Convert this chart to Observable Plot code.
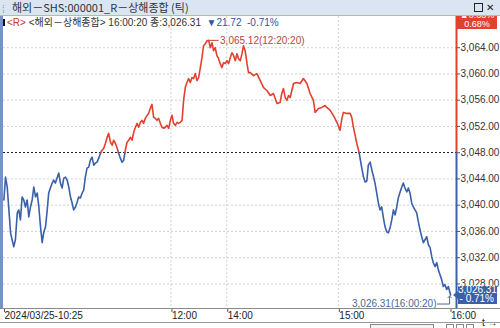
<!DOCTYPE html>
<html>
<head>
<meta charset="utf-8">
<script src="https://cdn.jsdelivr.net/npm/d3@7"></script>
<script src="https://cdn.jsdelivr.net/npm/@observablehq/plot@0.6"></script>
<style>
  body { margin: 0; background: #fff; }
  #wrap { position: relative; width: 500px; height: 328px; overflow: hidden; background: #fff;
          font-family: 'Liberation Sans Narrow', 'Liberation Sans', 'Noto Sans CJK KR', sans-serif; }
  #title { position: absolute; left: 0; top: 0; width: 500px; height: 15px; background: #dae5f1;
           border-bottom: 1px solid #a9c2a6; font-family: 'Liberation Sans Narrow', 'Noto Sans CJK KR', sans-serif;
           font-size: 11px; color: #2c3440; }
  #chart { position: absolute; left: 0; top: 16px; }
  .abs { position: absolute; }
</style>
</head>
<body>
<div id="wrap">
  <div id="title">
    <span class="abs" style="left:2px;top:1px;color:#8a9aae;font-size:10px;">⁞</span>
    <span class="abs" style="left:12px;top:0px;line-height:15px;">해외－SHS:000001_R－상해종합 (틱)</span>
    <span class="abs" style="left:474px;top:3px;width:7px;height:7px;border:1.5px solid #222;"></span>
    <span class="abs" style="left:486px;top:0px;line-height:15px;font-family:'DejaVu Sans';font-size:10px;font-weight:bold;color:#222;">✕</span>
  </div>
  <div id="chart"></div>
  <div class="abs" style="left:0;top:16px;width:3px;height:293px;background:#7393c9;"></div>
  <div class="abs" style="left:0;top:308px;width:500px;height:0;border-top:1.5px solid #8a8a8a;"></div>
  <div class="abs" style="left:0;top:322px;width:500px;height:0;border-top:1.5px solid #9a9a9a;"></div>
  <div class="abs" style="left:370px;top:324px;width:62px;height:6px;border:1px solid #8a8a8a;background:#f4f4f4;"></div>
  <div class="abs" style="left:446px;top:324px;width:6px;height:6px;border:1px solid #8a8a8a;"></div>
  <div class="abs" style="left:456px;top:324px;width:6px;height:6px;border:1px solid #8a8a8a;"></div>
  <div class="abs" style="left:466px;top:324px;width:6px;height:6px;border:1px solid #8a8a8a;"></div>
  <div id="info" class="abs" style="left:3px;top:17px;font-size:10px;line-height:11px;white-space:nowrap;color:#333;"></div>
</div>
<script>
// ---- data ----
const prevClose = 3048.03;
const seriesName = "해외－상해종합";
const times = [0.2,1.1,2.0,2.9,3.8,5.5,6.4,7.4,8.2,9.1,10.0,10.9,11.8,12.7,13.6,14.5,15.4,16.3,17.2,18.1,19.0,19.9,20.8,21.6,22.6,23.5,24.3,25.2,26.2,27.0,27.9,28.8,29.7,30.6,31.5,32.4,33.3,34.2,35.1,36.0,36.9,37.7,38.7,39.6,40.4,41.3,42.3,43.1,44.0,44.9,45.8,46.7,47.6,48.5,49.4,50.3,51.2,52.1,53.0,53.9,54.8,55.7,56.5,57.5,58.4,59.2,60.1,61.1,61.9,62.8,63.7,64.6,65.5,66.4,67.3,68.2,69.1,70.0,70.9,71.8,72.6,73.6,74.5,75.3,76.2,77.2,78.0,78.9,79.8,80.7,81.6,82.5,83.4,84.3,85.2,86.1,87.0,87.9,88.8,89.7,90.6,91.4,92.4,93.3,94.1,95.0,96.0,
96.8,97.7,98.6,99.5,100.4,101.3,102.2,103.1,104.0,104.9,105.8,106.7,107.5,108.5,109.4,110.33,111.1,112.1,112.9,113.8,114.7,115.6,116.5,117.4,118.3,119.2,120.1,121.0,121.9,122.8,123.7,124.6,125.5,126.3,127.3,128.2,129.0,129.9,130.9,131.7,132.6,
134.4,136.2,138.0,139.8,141.6,143.4,145.1,147.0,148.7,149.6,150.5,151.4,152.3,153.2,154.1,155.9,157.7,159.5,161.2,163.1,164.8,166.6,167.5,169.3,171.1,172.9,173.8,175.6,177.3,179.2,180.9,181.9,182.7,184.5,186.3,187.2,188.1,189.0,189.9,191.1,
192.6,193.5,194.4,195.3,196.1,197.1,198.0,198.8,199.7,200.6,201.5,202.4,203.3,204.2,205.1,206.0,206.9,207.8,208.7,209.6,210.5,211.4,212.2,213.2,214.1,214.9,215.8,216.8,217.6,218.5,219.4,220.3,222.1,223.0,223.9,224.8,225.7,226.6,227.5,228.4,229.3,230.2,231.0,232.0,232.9,233.7,234.6,235.5,236.4,237.3,238.2,239.1,240.33];
const prices = [3040.80,3044.28,3042.77,3039.28,3035.79,3033.67,3034.73,3038.83,3039.28,3037.76,3041.25,3040.80,3039.73,3040.80,3038.22,3039.73,3040.80,3042.77,3041.25,3041.86,3039.73,3036.70,3034.28,3035.79,3036.70,3039.28,3041.86,3042.62,3043.37,3043.83,3043.37,3044.13,3044.89,3043.37,3042.62,3044.13,3044.28,3043.83,3042.77,3041.25,3040.34,3039.28,3039.73,3040.49,3041.25,3041.10,3041.86,3042.31,3044.28,3045.65,3045.80,3046.86,3047.32,3046.10,3046.41,3046.56,3047.17,3047.92,3048.38,3048.68,3049.44,3050.35,3050.96,3049.59,3049.14,3049.90,3049.44,3048.68,3047.92,3047.17,3046.56,3046.86,3048.38,3049.59,3049.90,3050.35,3049.90,3051.11,3051.87,3052.47,3051.87,3052.63,3052.93,3052.47,3053.23,3053.69,3053.99,3054.75,3055.36,3053.38,3053.23,3052.93,3053.23,3052.47,3051.87,3051.72,3051.87,3052.17,3051.72,3052.93,3053.69,3052.47,3052.17,3052.63,3052.47,3052.63,3052.93,
3055.96,3057.93,3058.69,3059.30,3058.69,3059.45,3059.30,3060.06,3058.99,3059.45,3060.97,3062.48,3064.30,3064.61,3065.06,3065.12,3064.00,3064.76,3063.54,3064.00,3062.79,3062.33,3061.57,3060.97,3061.72,3061.57,3062.03,3061.57,3062.48,3063.24,3062.79,3062.03,3063.09,3062.33,3062.03,3063.09,3064.30,3063.54,3061.57,3060.21,3060.21,
3059.75,3060.06,3058.99,3057.93,3057.48,3056.72,3057.02,3055.51,3055.66,3057.02,3057.78,3056.42,3055.96,3056.72,3056.42,3058.54,3058.69,3058.54,3059.30,3058.54,3057.02,3055.96,3054.14,3054.75,3054.90,3055.20,3054.90,3054.45,3053.69,3052.63,3051.41,3053.23,3054.14,3053.99,3053.99,3053.38,3051.87,3050.65,3049.44,3048.08,
3045.65,3044.28,3043.53,3043.68,3046.10,3046.56,3045.35,3044.44,3043.37,3041.86,3040.34,3039.28,3039.73,3038.07,3036.70,3035.94,3035.79,3036.55,3037.76,3039.28,3038.52,3039.73,3041.10,3042.01,3042.77,3043.37,3042.62,3042.01,3042.62,3041.86,3040.34,3039.73,3038.83,3037.46,3036.25,3035.19,3034.28,3034.73,3035.19,3033.97,3033.52,3032.15,3031.24,3030.64,3031.24,3030.18,3029.42,3028.66,3027.60,3027.90,3027.15,3027.60,3026.31];
const yTicks = [3028,3032,3036,3040,3044,3048,3052,3056,3060,3064];
const xTickTimes = [0,90,120,180,240];
const xTickLabels = ["2024/03/25-10:25","12:00","14:00","15:00","16:00"];
const xGridTimes = [90,120,180];
const yPctRange = [-0.0078, 0.0068];

// ---- build ----
const red = "#e2412e", blue = "#3a60aa";
const fmt = d3.format(",.2f");
const n = Math.min(times.length, prices.length);
const pts = d3.range(n).map(i => ({t: times[i], v: prices[i]}));
const segs = [];
let seg = 0;
for (let i = 0; i < n; i++) {
  const p = pts[i];
  if (i > 0) {
    const q = pts[i - 1];
    if ((q.v - prevClose) * (p.v - prevClose) < 0) {
      const f = (prevClose - q.v) / (p.v - q.v);
      const tc = q.t + f * (p.t - q.t);
      segs.push({t: tc, v: prevClose, seg, dir: q.v > prevClose ? "up" : "down"});
      seg++;
      segs.push({t: tc, v: prevClose, seg, dir: p.v > prevClose ? "up" : "down"});
    }
  }
  const prev = segs.length ? segs[segs.length - 1] : null;
  const dir = p.v > prevClose ? "up" : (p.v < prevClose ? "down" : (prev ? prev.dir : "up"));
  segs.push({t: p.t, v: p.v, seg, dir});
}
function toClock(t) {
  const m = t <= 120 ? 630 + t : 840 + (t - 120);
  const s = Math.round(m * 60);
  const hh = Math.floor(s / 3600), mm = Math.floor((s % 3600) / 60), ss = s % 60;
  return [hh, mm, ss].map(x => String(x).padStart(2, "0")).join(":");
}
const peak = pts.reduce((a, b) => b.v > a.v ? b : a);
const last = pts[n - 1];
const yDomain = [prevClose * (1 + yPctRange[0]), prevClose * (1 + yPctRange[1])];
const xMax = 243.5;

const chart = Plot.plot({
  width: 500, height: 312,
  marginTop: 0, marginBottom: 20, marginLeft: 3, marginRight: 44,
  style: {fontFamily: "'Liberation Sans Narrow','Liberation Sans',sans-serif", fontSize: "10px", color: "#333", background: "transparent", overflow: "visible"},
  x: {domain: [0, xMax], axis: null},
  y: {domain: yDomain, axis: null},
  color: {domain: ["up", "down"], range: [red, blue]},
  marks: [
    Plot.gridY(yTicks, {stroke: "#d2d2d2", strokeOpacity: 1, strokeDasharray: "2,2"}),
    Plot.gridX(xGridTimes, {stroke: "#d2d2d2", strokeOpacity: 1, strokeDasharray: "2,2"}),
    Plot.ruleY([prevClose], {stroke: "#222", strokeDasharray: "2,2"}),
    Plot.line(segs, {x: "t", y: "v", z: "seg", stroke: "dir", strokeWidth: 1.6, curve: "linear"}),
    Plot.ruleX([xMax], {y1: prevClose, y2: yDomain[1], stroke: red, strokeWidth: 2}),
    Plot.ruleX([xMax], {y1: yDomain[0], y2: prevClose, stroke: blue, strokeWidth: 2}),
    Plot.axisY(yTicks, {anchor: "right", tickFormat: fmt, tickSize: 3, tickPadding: 1, fill: "#333", stroke: "#555"}),
    Plot.axisX(xTickTimes, {anchor: "bottom", tickFormat: d => xTickLabels[xTickTimes.indexOf(d)], tickSize: 4, tickPadding: -1, textAnchor: "start", dx: 1, fill: "#222", stroke: "#555"}),
    // peak annotation
    Plot.ruleY([peak], {x1: d => d.t, x2: d => d.t + 5, y: "v", dx: 1, stroke: "#b5473b", strokeWidth: 1}),
    Plot.text([peak], {x: d => d.t + 5, y: "v", text: d => fmt(d.v) + "(" + toClock(d.t) + ")", textAnchor: "start", dx: 2, fill: "#b5473b", fontSize: 10}),
    // last annotation
    Plot.ruleY([last], {x1: d => d.t - 6.5, x2: d => d.t, y: "v", dx: -1, dy: 9, stroke: "#4a6a9a", strokeWidth: 1}),
    Plot.vector([last], {x: "t", y: "v", dx: -1, dy: 9, length: 8, rotate: 0, anchor: "start", stroke: "#4a6a9a", strokeWidth: 1}),
    Plot.text([last], {x: d => d.t - 6.5, y: "v", text: d => fmt(d.v) + "(" + toClock(d.t) + ")", textAnchor: "end", dx: -2, dy: 9, fill: "#4a6a9a", fontSize: 10})
  ]
});
document.getElementById("chart").appendChild(chart);

// info line
const chg = last.v - prevClose;
const pct = chg / prevClose * 100;
document.getElementById("info").innerHTML =
  `<span style="display:inline-block;width:2px;height:7px;background:#111;margin-right:2px;"></span>` +
  `<span style="color:#c0392b">&lt;R&gt;</span> ` +
  `<span>&lt;${seriesName}&gt; ${toClock(last.t)} 종:${fmt(last.v)}</span> ` +
  `<span style="color:#2f55a4">&nbsp;${chg < 0 ? "▼" : "▲"}${fmt(Math.abs(chg))} &nbsp;${pct < 0 ? "-" : ""}${fmt(Math.abs(pct))}%</span>`;

// right-side tags positioned from the plot's own scales
const ys = chart.scale("y");
const wrap = document.getElementById("wrap");
const top0 = 16;
const yTop = ys.apply(yDomain[1]) + top0;
const pctTop = yPctRange[1] * 100;
const tagTop = document.createElement("div");
tagTop.className = "abs";
tagTop.style.cssText = `left:457px;top:${yTop}px;width:40px;height:13px;overflow:hidden;background:${red};color:#fff;font-size:9px;text-align:center;`;
tagTop.innerHTML =
  `<div style="position:absolute;left:0;top:0;width:40px;height:4px;overflow:hidden;"><div style="position:absolute;left:0;top:-5px;width:40px;line-height:9px;">▲${fmt(pctTop)}%</div></div>` +
  `<div style="position:absolute;left:0;top:4px;width:40px;line-height:9px;">${fmt(pctTop)}%</div>`;
wrap.appendChild(tagTop);

const yLast = ys.apply(last.v) + top0;
const tagLast = document.createElement("div");
tagLast.className = "abs";
tagLast.style.cssText = `left:458px;top:${yLast - 9}px;width:39px;height:18px;background:${blue};color:#fff;font-size:10px;line-height:8.5px;text-align:right;box-sizing:border-box;padding:0.5px 3px 0 0;`;
tagLast.innerHTML = `<div>${fmt(last.v)}</div><div>- ${fmt(Math.abs(pct))}%</div>`;
wrap.appendChild(tagLast);
const tri = document.createElement("div");
tri.className = "abs";
tri.style.cssText = `left:453px;top:${yLast - 4}px;width:0;height:0;border-top:4px solid transparent;border-bottom:4px solid transparent;border-right:5px solid ${blue};`;
wrap.appendChild(tri);
</script>
</body>
</html>
